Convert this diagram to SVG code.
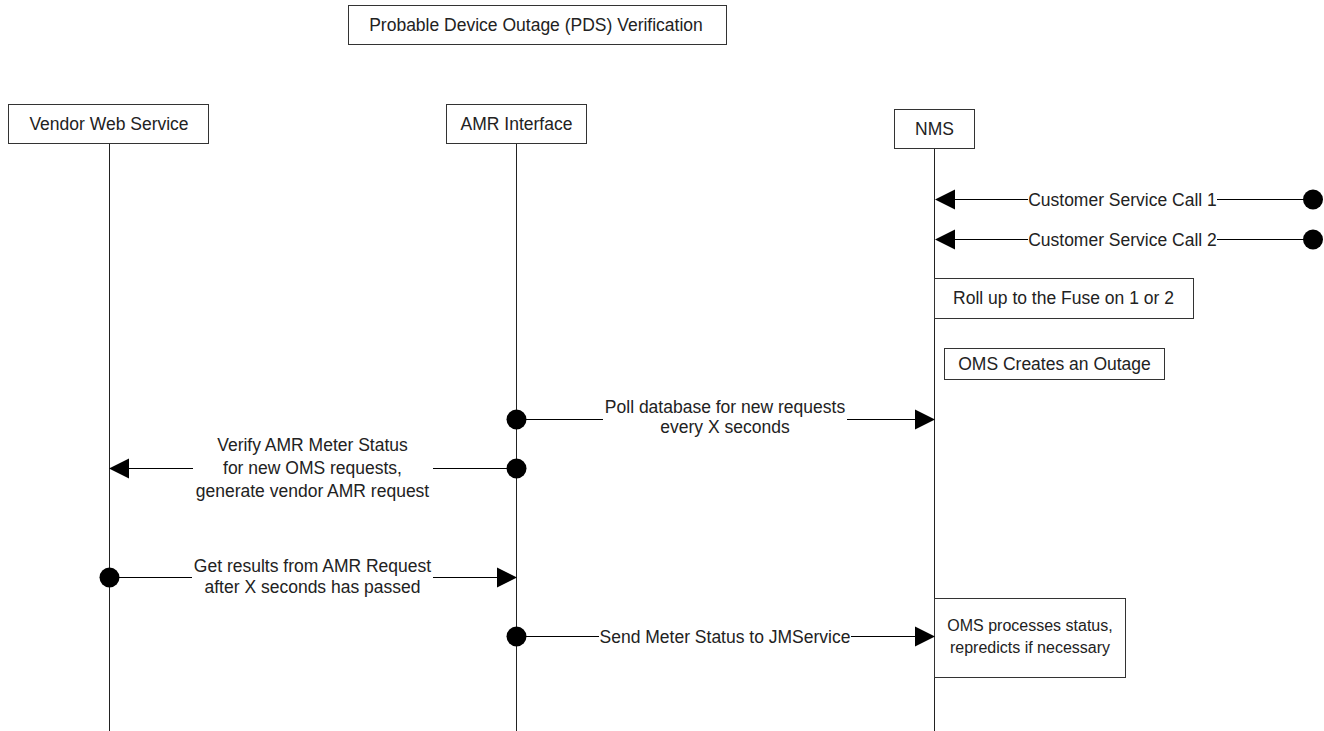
<svg xmlns="http://www.w3.org/2000/svg" width="1324" height="731" viewBox="0 0 1324 731">
<style>
text{font-family:"Liberation Sans",Arial,sans-serif;font-size:17.5px;fill:#222;text-anchor:middle}
.small{font-size:16px}
.box{fill:#fff;stroke:#333;stroke-width:1}
.life{stroke:#222;stroke-width:1;fill:none}
.msg{stroke:#000;stroke-width:1;fill:none}
.dot{fill:#000}
.head{fill:#000}
</style>
<rect width="1324" height="731" fill="#fff"/>
<g id="title">
<rect class="box" x="348.5" y="5.5" width="378" height="39"/>
<text x="536" y="31">Probable Device Outage (PDS) Verification</text>
</g>
<g id="lifelines">
<line class="life" x1="109.5" y1="144" x2="109.5" y2="731"/>
<line class="life" x1="516.5" y1="144" x2="516.5" y2="731"/>
<line class="life" x1="934.5" y1="149" x2="934.5" y2="731"/>
</g>
<g id="vendor">
<rect class="box" x="8.5" y="104.5" width="200" height="39"/>
<text x="109" y="130">Vendor Web Service</text>
</g>
<g id="amr">
<rect class="box" x="446.5" y="104.5" width="140" height="39"/>
<text x="516.5" y="130">AMR Interface</text>
</g>
<g id="nms">
<rect class="box" x="894.5" y="109.5" width="80" height="39"/>
<text x="934.5" y="135">NMS</text>
</g>
<g id="rollup">
<rect class="box" x="934.5" y="278.5" width="259" height="40"/>
<text x="1063.5" y="304">Roll up to the Fuse on 1 or 2</text>
</g>
<g id="creates">
<rect class="box" x="944.5" y="348.5" width="220" height="31"/>
<text x="1054.5" y="370">OMS Creates an Outage</text>
</g>
<g id="processes">
<rect class="box" x="934.5" y="598.5" width="191" height="79"/>
<text class="small" x="1030" y="631">OMS processes status,</text>
<text class="small" x="1030" y="653">repredicts if necessary</text>
</g>
<g id="connectors">
<!-- Customer Service Call 1 -->
<line class="msg" x1="955" y1="199.5" x2="1028" y2="199.5"/>
<line class="msg" x1="1217" y1="199.5" x2="1313" y2="199.5"/>
<polygon class="head" points="935,199.5 955,189.5 955,209.5"/>
<circle class="dot" cx="1313" cy="199.5" r="10"/>
<text x="1122.5" y="205.5">Customer Service Call 1</text>
<!-- Customer Service Call 2 -->
<line class="msg" x1="955" y1="239.5" x2="1028" y2="239.5"/>
<line class="msg" x1="1217" y1="239.5" x2="1313" y2="239.5"/>
<polygon class="head" points="935,239.5 955,229.5 955,249.5"/>
<circle class="dot" cx="1313" cy="239.5" r="10"/>
<text x="1122.5" y="245.5">Customer Service Call 2</text>
<!-- Poll -->
<line class="msg" x1="517" y1="419.5" x2="603" y2="419.5"/>
<line class="msg" x1="847" y1="419.5" x2="915" y2="419.5"/>
<polygon class="head" points="935,419.5 915,409.5 915,429.5"/>
<circle class="dot" cx="516.5" cy="419.5" r="10"/>
<text x="725" y="413">Poll database for new requests</text>
<text x="725" y="433">every X seconds</text>
<!-- Verify -->
<line class="msg" x1="129" y1="468.5" x2="193" y2="468.5"/>
<line class="msg" x1="433" y1="468.5" x2="517" y2="468.5"/>
<polygon class="head" points="109,468.5 129,458.5 129,478.5"/>
<circle class="dot" cx="516.5" cy="468.5" r="10"/>
<text x="312.5" y="451">Verify AMR Meter Status</text>
<text x="312.5" y="474">for new OMS requests,</text>
<text x="312.5" y="497">generate vendor AMR request</text>
<!-- Get results -->
<line class="msg" x1="109" y1="577.5" x2="192" y2="577.5"/>
<line class="msg" x1="433" y1="577.5" x2="497" y2="577.5"/>
<polygon class="head" points="517,577.5 497,567.5 497,587.5"/>
<circle class="dot" cx="109.5" cy="577.5" r="10"/>
<text x="312.5" y="572">Get results from AMR Request</text>
<text x="312.5" y="593">after X seconds has passed</text>
<!-- Send meter status -->
<line class="msg" x1="517" y1="636.5" x2="599" y2="636.5"/>
<line class="msg" x1="851" y1="636.5" x2="915" y2="636.5"/>
<polygon class="head" points="935,636.5 915,626.5 915,646.5"/>
<circle class="dot" cx="516.5" cy="636.5" r="10"/>
<text x="725" y="642.5">Send Meter Status to JMService</text>
</g>
</svg>
